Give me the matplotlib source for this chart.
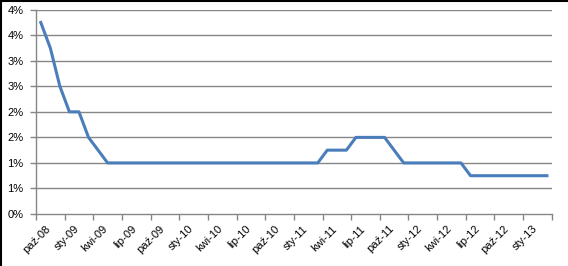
import matplotlib.pyplot as plt
import numpy as np

plt.rcParams['font.family'] = ['Liberation Sans', 'DejaVu Sans']

# monthly ECB rate, paź-08 .. mar-13 (%)
months = ['paź-08', 'lis-08', 'gru-08', 'sty-09', 'lut-09', 'mar-09', 'kwi-09', 'maj-09', 'cze-09',
          'lip-09', 'sie-09', 'wrz-09', 'paź-09', 'lis-09', 'gru-09', 'sty-10', 'lut-10', 'mar-10',
          'kwi-10', 'maj-10', 'cze-10', 'lip-10', 'sie-10', 'wrz-10', 'paź-10', 'lis-10', 'gru-10',
          'sty-11', 'lut-11', 'mar-11', 'kwi-11', 'maj-11', 'cze-11', 'lip-11', 'sie-11', 'wrz-11',
          'paź-11', 'lis-11', 'gru-11', 'sty-12', 'lut-12', 'mar-12', 'kwi-12', 'maj-12', 'cze-12',
          'lip-12', 'sie-12', 'wrz-12', 'paź-12', 'lis-12', 'gru-12', 'sty-13', 'lut-13', 'mar-13']
rate = [3.75, 3.25, 2.5, 2.0, 2.0, 1.5, 1.25, 1.0, 1.0,
        1.0, 1.0, 1.0, 1.0, 1.0, 1.0, 1.0, 1.0, 1.0,
        1.0, 1.0, 1.0, 1.0, 1.0, 1.0, 1.0, 1.0, 1.0,
        1.0, 1.0, 1.0, 1.25, 1.25, 1.25, 1.5, 1.5, 1.5,
        1.5, 1.25, 1.0, 1.0, 1.0, 1.0, 1.0, 1.0, 1.0,
        0.75, 0.75, 0.75, 0.75, 0.75, 0.75, 0.75, 0.75, 0.75]
yticks = [0, 0.5, 1.0, 1.5, 2.0, 2.5, 3.0, 3.5, 4.0]
ylabels = ['0%', '1%', '1%', '2%', '2%', '3%', '3%', '4%', '4%']

x = np.arange(len(months))

fig = plt.figure(figsize=(5.68, 2.66), dpi=100)
ax = fig.add_axes([36 / 568, 1 - 214 / 266, (551.7 - 36) / 568, (214 - 9.7) / 266])

grid_col = '#868686'
ax.plot(x, rate, color='#4a7ebb', lw=2.2, solid_joinstyle='round', zorder=3)

ax.set_xlim(-0.5, len(months) - 0.5)
ax.set_ylim(0, 4.0)
ax.set_yticks(yticks)
ax.set_yticklabels(ylabels)
for y in yticks[1:]:
    ax.axhline(y, color=grid_col, lw=1.0, zorder=1)

# tick marks between groups of 3 months, labels on the first month of each group
ax.set_xticks(np.arange(-0.5, len(months), 3))
ax.set_xticklabels([])
ax.set_xticks(x[::3] + 0.45, minor=True)
ax.set_xticklabels(months[::3], minor=True, rotation=45, ha='right', va='top',
                   rotation_mode='anchor')

for s in ['top', 'right']:
    ax.spines[s].set_visible(False)
for s in ['left', 'bottom']:
    ax.spines[s].set_color(grid_col)
    ax.spines[s].set_linewidth(1.0)

ax.tick_params(axis='both', which='major', direction='out', length=4, width=1.0,
               color=grid_col, labelsize=8, pad=5)
ax.tick_params(axis='x', which='minor', length=0, labelsize=8, pad=7)

# chart frame
fig.add_artist(plt.Line2D([0.001, 0.001], [0, 1], color='black', lw=1.5, transform=fig.transFigure))
fig.add_artist(plt.Line2D([0, 1], [0.998, 0.998], color='black', lw=1.5, transform=fig.transFigure))

fig.savefig('out.png', dpi=100)
